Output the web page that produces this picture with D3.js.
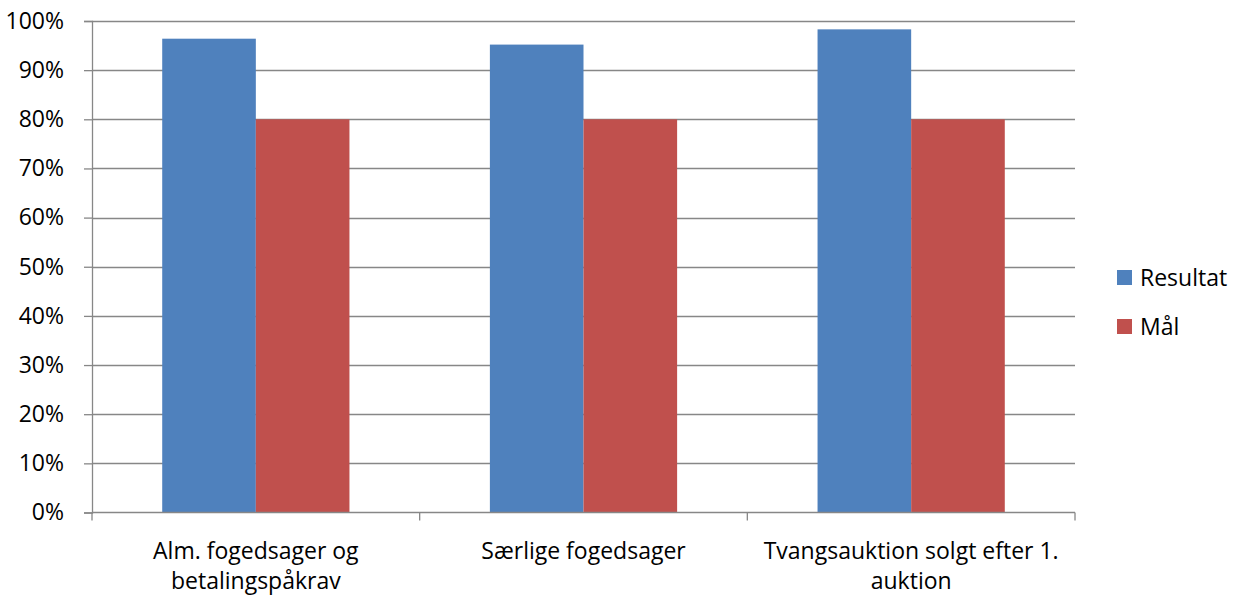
<!DOCTYPE html>
<html>
<head>
<meta charset="utf-8">
<script src="https://cdn.jsdelivr.net/npm/d3@7"></script>
<style>
  body { margin: 0; background: #fff; }
  svg { font-family: "Open Sans", "Noto Sans", sans-serif; }
</style>
</head>
<body>
<svg width="1238" height="595"></svg>
<script>
var categories = [["Alm. fogedsager og", "betalingspåkrav"], ["Særlige fogedsager"], ["Tvangsauktion solgt efter 1.", "auktion"]];
var seriesNames = ["Resultat", "Mål"];
var resultat = [0.964, 0.952, 0.983];
var maal = [0.80, 0.80, 0.80];
var yTicks = [0, 0.1, 0.2, 0.3, 0.4, 0.5, 0.6, 0.7, 0.8, 0.9, 1.0];
var colors = ["#4f81bd", "#c0504d"];

var svg = d3.select("svg"),
  plotLeft = 92, plotRight = 1075, plotTop = 21, plotBottom = 512.5,
  fontSize = 23;

var x0 = d3.scaleBand().domain(d3.range(categories.length)).range([plotLeft, plotRight]).padding(0);
var x1 = d3.scaleBand().domain(seriesNames).range([0, x0.bandwidth()]).paddingInner(0).paddingOuter(0.75);
var y = d3.scaleLinear().domain([0, 1]).range([plotBottom, plotTop]);
var z = d3.scaleOrdinal().domain(seriesNames).range(colors);

// gridlines
svg.append("g")
  .selectAll("line")
  .data(yTicks.slice(1))
  .enter().append("line")
    .attr("x1", plotLeft).attr("x2", plotRight)
    .attr("y1", function(d) { return Math.round(y(d)) + 0.5; })
    .attr("y2", function(d) { return Math.round(y(d)) + 0.5; })
    .attr("stroke", "#878787").attr("stroke-width", 1.3);

// bars
var rows = categories.map(function(c, i) { return { i: i, values: [resultat[i], maal[i]] }; });
svg.append("g")
  .selectAll("g")
  .data(rows)
  .enter().append("g")
    .attr("transform", function(d) { return "translate(" + x0(d.i) + ",0)"; })
  .selectAll("rect")
  .data(function(d) { return d.values.map(function(v, k) { return { key: seriesNames[k], value: v }; }); })
  .enter().append("rect")
    .attr("x", function(d) { return x1(d.key); })
    .attr("y", function(d) { return y(d.value); })
    .attr("width", x1.bandwidth())
    .attr("height", function(d) { return y(0) - y(d.value); })
    .attr("fill", function(d) { return z(d.key); });

// y axis
var yAxis = svg.append("g")
  .attr("transform", "translate(" + plotLeft + ",0)")
  .call(d3.axisLeft(y).tickValues(yTicks).tickFormat(d3.format(".0%")).tickSize(8).tickPadding(20))
  .attr("font-family", null)
  .attr("font-size", fontSize);
yAxis.select(".domain").attr("stroke", "#878787").attr("stroke-width", 1.3);
yAxis.selectAll(".tick line").attr("stroke", "#878787").attr("stroke-width", 1.3);
yAxis.selectAll(".tick text").attr("fill", "#000");

// x axis
var xAxis = svg.append("g")
  .attr("transform", "translate(0," + plotBottom + ")");
xAxis.append("line")
  .attr("x1", plotLeft).attr("x2", plotRight).attr("y1", 0).attr("y2", 0)
  .attr("stroke", "#878787").attr("stroke-width", 1.3);
xAxis.selectAll(".xt")
  .data(d3.range(categories.length + 1))
  .enter().append("line")
    .attr("class", "xt")
    .attr("x1", function(d) { return d < categories.length ? x0(d) : plotRight; })
    .attr("x2", function(d) { return d < categories.length ? x0(d) : plotRight; })
    .attr("y1", 0).attr("y2", 8)
    .attr("stroke", "#878787").attr("stroke-width", 1.3);

var labels = xAxis.selectAll(".xl")
  .data(categories)
  .enter().append("text")
    .attr("class", "xl")
    .attr("text-anchor", "middle")
    .attr("font-size", fontSize)
    .attr("fill", "#000")
    .attr("transform", function(d, i) { return "translate(" + (x0(i) + x0.bandwidth() / 2) + ",0)"; });
labels.selectAll("tspan")
  .data(function(d) { return d; })
  .enter().append("tspan")
    .attr("x", 0)
    .attr("y", function(d, i) { return 46 + i * 30; })
    .text(function(d) { return d; });

// legend
var legend = svg.append("g")
  .selectAll("g")
  .data(seriesNames)
  .enter().append("g")
    .attr("transform", function(d, i) { return "translate(1117," + (270 + i * 49) + ")"; });
legend.append("rect")
  .attr("width", 15).attr("height", 15)
  .attr("fill", z);
legend.append("text")
  .attr("x", 23).attr("y", 16)
  .attr("font-size", fontSize)
  .attr("fill", "#000")
  .text(function(d) { return d; });
</script>
</body>
</html>
